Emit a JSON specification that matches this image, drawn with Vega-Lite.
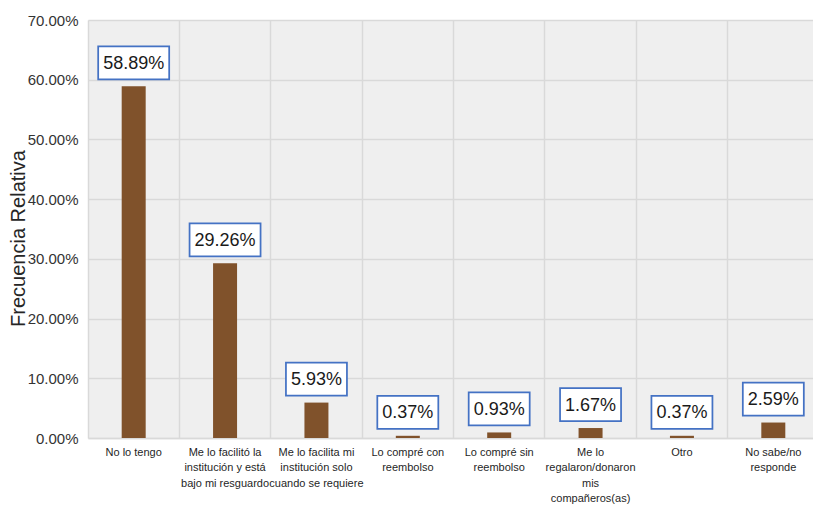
{
  "$schema": "https://vega.github.io/schema/vega-lite/v6.json",
  "width": 731,
  "height": 418,
  "autosize": {"type": "none"},
  "padding": {"left": 88, "top": 20, "right": 0, "bottom": 67},
  "background": "white",
  "config": {
    "font": "Liberation Sans",
    "view": {"stroke": null, "fill": "#efefef"}
  },
  "data": {
    "values": [
      {"cat": "No lo tengo", "order": 1, "Frecuencia": 0.5889},
      {"cat": "Me lo facilitó la|institución y está|bajo mi resguardo", "order": 2, "Frecuencia": 0.2926},
      {"cat": "Me lo facilita mi|institución solo|cuando se requiere", "order": 3, "Frecuencia": 0.0593},
      {"cat": "Lo compré con|reembolso", "order": 4, "Frecuencia": 0.0037},
      {"cat": "Lo compré sin|reembolso", "order": 5, "Frecuencia": 0.0093},
      {"cat": "Me lo|regalaron/donaron|mis|compañeros(as)", "order": 6, "Frecuencia": 0.0167},
      {"cat": "Otro", "order": 7, "Frecuencia": 0.0037},
      {"cat": "No sabe/no|responde", "order": 8, "Frecuencia": 0.0259}
    ]
  },
  "encoding": {
    "x": {
      "field": "cat",
      "type": "nominal",
      "sort": {"field": "order"},
      "scale": {"paddingInner": 0, "paddingOuter": 0},
      "axis": {
        "title": null,
        "labelAngle": 0,
        "labelExpr": "split(datum.value, '|')",
        "labelFont": "Liberation Sans",
        "labelFontSize": 11,
        "labelLineHeight": 15.5,
        "labelColor": "#1f1f1f",
        "labelPadding": 8,
        "labelBaseline": "top",
        "labelLimit": 200,
        "ticks": false,
        "grid": true,
        "bandPosition": 0,
        "gridColor": "#d9d9d9",
        "gridWidth": 1.5,
        "domainColor": "#d9d9d9",
        "domainWidth": 1.5
      }
    },
    "y": {
      "field": "Frecuencia",
      "type": "quantitative",
      "scale": {"domain": [0, 0.7]},
      "axis": {
        "title": "Frecuencia Relativa",
        "titleFontSize": 20,
        "titleFontWeight": "normal",
        "titleColor": "#262626",
        "titlePadding": -1,
        "titleY": 218,
        "values": [0, 0.1, 0.2, 0.3, 0.4, 0.5, 0.6, 0.7],
        "format": ".2%",
        "labelFontSize": 15,
        "labelColor": "#333333",
        "labelPadding": 10,
        "ticks": false,
        "domain": false,
        "gridColor": "#d9d9d9",
        "gridWidth": 1.5
      }
    }
  },
  "layer": [
    {
      "mark": {"type": "bar", "width": 24, "color": "#80522B"}
    },
    {
      "mark": {"type": "point", "filled": true, "fill": "white", "stroke": "#4472C4", "strokeWidth": 1.75, "opacity": 1, "yOffset": -23.5},
      "encoding": {
        "shape": {"condition": {"test": "datum.Frecuencia >= 0.1", "value": "M-1,-0.465H1V0.465H-1Z"}, "value": "M-1,-0.541H1V0.541H-1Z"},
        "size": {"condition": {"test": "datum.Frecuencia >= 0.1", "value": 5041}, "value": 3721}
      }
    },
    {
      "mark": {"type": "text", "fontSize": 18, "color": "#1a1a1a", "baseline": "middle", "yOffset": -22.5},
      "encoding": {
        "text": {"field": "Frecuencia", "type": "quantitative", "format": ".2%"}
      }
    }
  ]
}
